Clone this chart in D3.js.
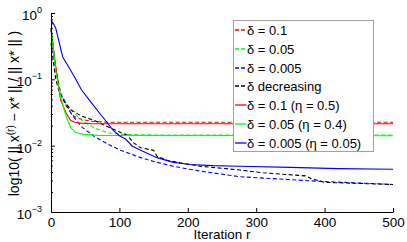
<!DOCTYPE html>
<html>
<head>
<meta charset="utf-8">
<script src="https://cdn.jsdelivr.net/npm/d3@7"></script>
<style>
body { margin: 0; background: #fff; }
svg { font-family: "Liberation Sans", Arial, sans-serif; }
</style>
</head>
<body>
<svg id="chart"></svg>
<script>
// iterations and relative error for each run
var redDashX = [0, 3, 7, 14, 22, 29, 34, 44, 58, 80, 120, 200, 300, 400, 500];
var redDashY = [0.589, 0.316, 0.141, 0.063, 0.040, 0.0316, 0.0275, 0.0251, 0.0234, 0.0226, 0.0226, 0.0226, 0.0226, 0.0226, 0.0226];

var greenDashX = [0, 3, 7, 14, 22, 29, 44, 63, 82, 102, 150, 500];
var greenDashY = [0.589, 0.316, 0.141, 0.063, 0.0437, 0.0347, 0.0245, 0.0186, 0.0158, 0.0148, 0.0145, 0.0145];

var blueDashX = [0, 3, 7, 14, 29, 44, 63, 82, 102, 131, 155, 179, 203, 228, 276, 320, 393, 500];
var blueDashY = [0.562, 0.316, 0.141, 0.0603, 0.0309, 0.0195, 0.0138, 0.0107, 0.0085, 0.0066, 0.0056, 0.0049, 0.0044, 0.0040, 0.0034, 0.0032, 0.0029, 0.0026];

var blackDashX = [0, 3, 7, 14, 29, 44, 63, 82, 102, 111, 121, 131, 150, 155, 170, 189, 218, 276, 310, 373, 380, 400, 450, 500];
var blackDashY = [0.355, 0.2, 0.1, 0.055, 0.0347, 0.0282, 0.024, 0.0195, 0.0158, 0.0145, 0.011, 0.0093, 0.0085, 0.0069, 0.006, 0.0055, 0.0049, 0.0043, 0.0039, 0.0035, 0.0032, 0.0028, 0.0027, 0.0026];

var redX = [0, 3, 7, 14, 22, 29, 36, 44, 60, 500];
var redY = [0.589, 0.316, 0.155, 0.049, 0.031, 0.024, 0.0224, 0.0219, 0.0214, 0.0214];

var greenX = [0, 3, 7, 14, 22, 29, 36, 48, 70, 500];
var greenY = [0.589, 0.316, 0.132, 0.055, 0.0275, 0.0186, 0.0158, 0.0148, 0.0143, 0.0141];

var blueX = [0, 3, 7, 17, 34, 44, 58, 75, 90, 100, 109, 119, 131, 155, 179, 203, 237, 276, 350, 420, 500];
var blueY = [0.785, 0.708, 0.589, 0.219, 0.110, 0.0708, 0.0457, 0.0275, 0.0174, 0.0141, 0.0126, 0.0098, 0.0085, 0.0066, 0.0056, 0.0052, 0.0050, 0.0049, 0.0047, 0.0045, 0.0044];

var legendLabels = ["\u03b4 = 0.1", "\u03b4 = 0.05", "\u03b4 = 0.005", "\u03b4 decreasing",
    "\u03b4 = 0.1 (\u03b7 = 0.5)", "\u03b4 = 0.05 (\u03b7 = 0.4)", "\u03b4 = 0.005 (\u03b7 = 0.05)"];
var xTicks = [0, 100, 200, 300, 400, 500];
var yExps = [0, -1, -2, -3];

var series = [
    {x: redDashX, y: redDashY, color: "#ff0000", dash: true},
    {x: greenDashX, y: greenDashY, color: "#00ff00", dash: true},
    {x: blueDashX, y: blueDashY, color: "#0000ff", dash: true},
    {x: blackDashX, y: blackDashY, color: "#000000", dash: true},
    {x: redX, y: redY, color: "#ff0000", dash: false},
    {x: greenX, y: greenY, color: "#00ff00", dash: false},
    {x: blueX, y: blueY, color: "#0000ff", dash: false}
];

var screen = {width: 407, height: 242};
var margins = {left: 51, top: 13, right: 14, bottom: 30};
var graph = {
    width: screen.width - margins.left - margins.right,
    height: screen.height - margins.top - margins.bottom
};

var svg = d3.select("#chart")
    .attr("width", screen.width)
    .attr("height", screen.height);

var x = d3.scaleLinear().domain([0, 500]).range([0, graph.width]);
var y = d3.scaleLog().domain([1e-3, 1]).range([graph.height, 0]);

var g = svg.append("g")
    .attr("transform", "translate(" + margins.left + "," + margins.top + ")");

// lines first, axes drawn over
var line = d3.line()
    .x(function(d) { return x(d[0]); })
    .y(function(d) { return y(d[1]); });

series.forEach(function(s) {
    var pts = s.x.map(function(v, i) { return [v, s.y[i]]; });
    g.append("path")
        .datum(pts)
        .attr("fill", "none")
        .attr("stroke", s.color)
        .attr("stroke-width", 1.1)
        .attr("stroke-dasharray", s.dash ? "4,2.5" : null)
        .attr("d", line);
});

// x axis, ticks inward
var xAxis = g.append("g")
    .attr("transform", "translate(0," + graph.height + ")")
    .call(d3.axisBottom(x).tickValues(xTicks).tickSizeInner(-4).tickSizeOuter(0).tickPadding(5));
xAxis.select(".domain").attr("stroke", "#000");
xAxis.selectAll(".tick line").attr("stroke", "#000");
xAxis.selectAll("text").attr("font-size", 13.5).attr("fill", "#000")
    .attr("font-family", "Liberation Sans, Arial, sans-serif");

// y axis (log), major and minor ticks inward
var minor = [];
for (var e = -3; e < 0; e++) {
    for (var m = 2; m <= 9; m++) minor.push(m * Math.pow(10, e));
}
var yMinor = g.append("g")
    .call(d3.axisLeft(y).tickValues(minor).tickSizeInner(-2).tickSizeOuter(0).tickFormat(""));
yMinor.select(".domain").remove();

var yAxis = g.append("g")
    .call(d3.axisLeft(y).tickValues(yExps.map(function(p) { return Math.pow(10, p); }))
        .tickSizeInner(-4).tickSizeOuter(0).tickFormat(""));
yAxis.select(".domain").attr("stroke", "#000");

var yLab = g.append("g");
yExps.forEach(function(p) {
    var t = yLab.append("text")
        .attr("x", -9)
        .attr("y", y(Math.pow(10, p)) + 7)
        .attr("text-anchor", "end")
        .attr("font-size", 13.5);
    t.append("tspan").text("10");
    t.append("tspan").attr("dy", -7).attr("font-size", 9).text(p === 0 ? "0" : "\u2212" + (-p));
});

// axis titles
svg.append("text")
    .attr("x", margins.left + graph.width / 2)
    .attr("y", 239)
    .attr("text-anchor", "middle")
    .attr("font-size", 13.5)
    .text("Iteration r");

var ylab = svg.append("text")
    .attr("transform", "translate(19," + (margins.top + graph.height / 2 + 1) + ") rotate(-90)")
    .attr("text-anchor", "middle")
    .attr("font-size", 14);
ylab.append("tspan").text("log10( || x");
ylab.append("tspan").attr("dy", -5).attr("font-size", 10).text("(r)");
ylab.append("tspan").attr("dy", 5).text(" \u2212 x* || / || x* || )");

// legend
var legend = svg.append("g").attr("transform", "translate(233,20)");
legend.append("rect")
    .attr("x", 0.5).attr("y", 0.5)
    .attr("width", 140).attr("height", 131)
    .attr("fill", "#fff").attr("stroke", "#a0a0a0").attr("stroke-width", 1);

legendLabels.forEach(function(lbl, i) {
    var ly = Math.round(10 + i * 18.8);
    var s = series[i];
    legend.append("line")
        .attr("x1", 2).attr("x2", 13.5)
        .attr("y1", ly).attr("y2", ly)
        .attr("stroke", s.color)
        .attr("stroke-width", 1.3)
        .attr("stroke-dasharray", s.dash ? "4,2" : null);
    legend.append("text")
        .attr("x", 14)
        .attr("y", ly + 4.5)
        .attr("font-size", 13)
        .text(lbl);
});
</script>
</body>
</html>
